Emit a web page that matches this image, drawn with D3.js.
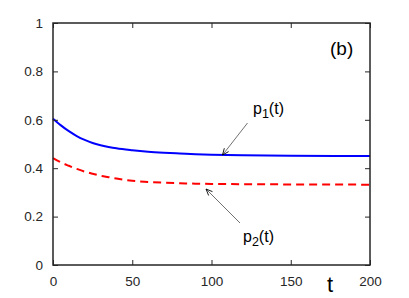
<!DOCTYPE html>
<html><head><meta charset="utf-8">
<script src="https://cdn.jsdelivr.net/npm/d3@7"></script>
<style>body{margin:0;background:#fff}svg{display:block}</style>
</head><body>
<script>
const tValues = [0, 5, 10, 15, 20, 25, 30, 35, 40, 50, 60, 70, 80, 90, 100, 120, 150, 200];
const p1Values = [0.605, 0.577, 0.553, 0.533, 0.517, 0.504, 0.495, 0.488, 0.482, 0.474, 0.468, 0.464, 0.461, 0.458, 0.456, 0.453, 0.451, 0.45];
const p2Values = [0.442, 0.424, 0.41, 0.397, 0.386, 0.377, 0.369, 0.363, 0.357, 0.348, 0.343, 0.34, 0.338, 0.336, 0.335, 0.334, 0.333, 0.332];
const xTicks = [0, 50, 100, 150, 200];
const yTicks = [0, 0.2, 0.4, 0.6, 0.8, 1];

const W = 409, H = 298;
const m = {l: 53, r: 370, t: 23, b: 265};
const svg = d3.select("body").append("svg").attr("width", W).attr("height", H);
const x = d3.scaleLinear().domain([0, 200]).range([m.l, m.r]);
const y = d3.scaleLinear().domain([0, 1]).range([m.b, m.t]);
const tickColor = "#262626";
const font = "Helvetica, Arial, 'Liberation Sans', sans-serif";

const line = d3.line().x(d => x(d[0])).y(d => y(d[1])).curve(d3.curveMonotoneX);
svg.append("path").datum(tValues.map((t, i) => [t, p1Values[i]]))
  .attr("d", line).attr("fill", "none").attr("stroke", "#0000ff").attr("stroke-width", 2);
svg.append("path").datum(tValues.map((t, i) => [t, p2Values[i]]))
  .attr("d", line).attr("fill", "none").attr("stroke", "#ff0000").attr("stroke-width", 2)
  .attr("stroke-dasharray", "8,5");

function styleAxis(g) {
  g.select(".domain").remove();
  g.selectAll("line").attr("stroke", tickColor).attr("stroke-width", 1);
  g.selectAll("text").attr("fill", tickColor).style("font-family", font).style("font-size", "13.5px");
}
svg.append("g").attr("transform", `translate(0,${m.b})`)
  .call(d3.axisBottom(x).tickValues(xTicks).tickSize(-5).tickPadding(11).tickFormat(d3.format("d"))).call(styleAxis);
svg.append("g").attr("transform", `translate(0,${m.t})`)
  .call(d3.axisTop(x).tickValues(xTicks).tickSize(-5).tickFormat("")).call(styleAxis);
svg.append("g").attr("transform", `translate(${m.l},0)`)
  .call(d3.axisLeft(y).tickValues(yTicks).tickSize(-5).tickPadding(10).tickFormat(d => d === 0 || d === 1 ? d3.format("d")(d) : d3.format(".1f")(d))).call(styleAxis);
svg.append("g").attr("transform", `translate(${m.r},0)`)
  .call(d3.axisRight(y).tickValues(yTicks).tickSize(-5).tickFormat("")).call(styleAxis);

svg.append("rect").attr("x", m.l).attr("y", m.t).attr("width", m.r - m.l).attr("height", m.b - m.t)
  .attr("fill", "none").attr("stroke", tickColor).attr("stroke-width", 1.5);

svg.append("text").attr("x", 330).attr("y", 55).text("(b)")
  .style("font-family", font).style("font-size", "19px").attr("fill", "#000");
svg.append("text").attr("x", 327).attr("y", 292).text("t")
  .style("font-family", font).style("font-size", "22px").attr("fill", "#000");

function label(xp, yp, sub) {
  const t = svg.append("text").attr("x", xp).attr("y", yp)
    .style("font-family", font).style("font-size", "16px").attr("fill", "#000");
  t.append("tspan").text("p");
  t.append("tspan").attr("dy", 4).style("font-size", "12.5px").text(sub);
  t.append("tspan").attr("dy", -4).text("(t)");
}
label(253, 114, "1");
label(243, 242, "2");

function arrow(x1, y1, x2, y2) {
  svg.append("line").attr("x1", x1).attr("y1", y1).attr("x2", x2).attr("y2", y2)
    .attr("stroke", "#333").attr("stroke-width", 0.7);
  const a = Math.atan2(y2 - y1, x2 - x1), L = 7, s = 0.4;
  const pts = [[x2 - L * Math.cos(a - s), y2 - L * Math.sin(a - s)], [x2, y2], [x2 - L * Math.cos(a + s), y2 - L * Math.sin(a + s)]];
  svg.append("path").attr("d", d3.line()(pts)).attr("fill", "none").attr("stroke", "#000").attr("stroke-width", 0.9);
}
arrow(247.5, 123, 222.5, 155);
arrow(240, 223, 206, 189);
</script>
</body></html>
